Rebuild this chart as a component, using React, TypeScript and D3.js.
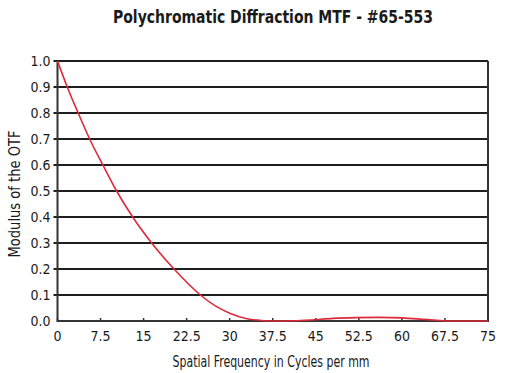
import React, { useEffect, useRef } from 'react';
import * as d3 from 'd3';

// MTF curve
const frequency = [0, 1.7, 3.6, 5.6, 7.9, 10.3, 13.1, 16.4, 20.3, 24.9, 27.5, 30, 33, 35.5, 38, 41, 44, 48, 52, 56, 60, 63.5, 66, 68.4, 71, 75];
const modulus = [1, 0.9, 0.8, 0.7, 0.6, 0.5, 0.4, 0.3, 0.2, 0.1, 0.058, 0.03, 0.009, 0.002, 0, 0.001, 0.004, 0.01, 0.013, 0.014, 0.012, 0.007, 0.003, 0, 0, 0];

const xTicks = [0, 7.5, 15, 22.5, 30, 37.5, 45, 52.5, 60, 67.5, 75];
const yTicks = [0, 0.1, 0.2, 0.3, 0.4, 0.5, 0.6, 0.7, 0.8, 0.9, 1.0];

const title = 'Polychromatic Diffraction MTF - #65-553';
const xTitle = 'Spatial Frequency in Cycles per mm';
const yTitle = 'Modulus of the OTF';

const FONT = '"DejaVu Sans Condensed", "Liberation Sans Narrow", sans-serif';

const W = 512;
const H = 373;
const margin = { top: 61, right: 24, bottom: 52, left: 57.5 };

export default function App() {
  const svgRef = useRef<SVGSVGElement>(null);

  useEffect(() => {
    if (!svgRef.current) return;
    const svg = d3.select(svgRef.current);
    svg.selectAll('*').remove();

    const x = d3.scaleLinear().domain([0, 75]).range([margin.left, W - margin.right]);
    const y = d3.scaleLinear().domain([0, 1]).range([H - margin.bottom, margin.top]);

    svg.append('rect').attr('width', W).attr('height', H).attr('fill', '#fff');

    // horizontal grid lines (extend a little left of the axis as ticks)
    svg.append('g')
      .selectAll('line')
      .data(yTicks.filter(d => d > 0))
      .enter()
      .append('line')
      .attr('x1', x(0) - 4)
      .attr('x2', x(75))
      .attr('y1', d => y(d))
      .attr('y2', d => y(d))
      .attr('stroke', '#1e1e1e')
      .attr('stroke-width', 2);

    // frame: left, bottom, right
    svg.append('path')
      .attr('d', `M${x(0)},${y(1)}V${y(0)}H${x(75)}V${y(1)}`)
      .attr('fill', 'none')
      .attr('stroke', '#333')
      .attr('stroke-width', 2);

    // x ticks (small, inward)
    svg.append('g')
      .selectAll('line')
      .data(xTicks)
      .enter()
      .append('line')
      .attr('x1', d => x(d))
      .attr('x2', d => x(d))
      .attr('y1', y(0))
      .attr('y2', y(0) - 3)
      .attr('stroke', '#333')
      .attr('stroke-width', 1.5);

    // MTF curve
    const pts: [number, number][] = frequency.map((f, i) => [f, modulus[i]]);
    const line = d3.line<[number, number]>()
      .x(d => x(d[0]))
      .y(d => y(Math.max(0, d[1])))
      .curve(d3.curveMonotoneX);
    svg.append('path')
      .datum(pts)
      .attr('d', line)
      .attr('fill', 'none')
      .attr('stroke', '#dc2a3a')
      .attr('stroke-width', 1.6);

    // tick labels
    svg.append('g')
      .selectAll('text')
      .data(yTicks)
      .enter()
      .append('text')
      .attr('x', x(0) - 7)
      .attr('y', d => y(d) + 5)
      .attr('text-anchor', 'end')
      .attr('font-family', FONT)
      .attr('font-size', 14)
      .attr('fill', '#1a1a1a')
      .text(d => d.toFixed(1));

    svg.append('g')
      .selectAll('text')
      .data(xTicks)
      .enter()
      .append('text')
      .attr('x', d => x(d))
      .attr('y', y(0) + 20)
      .attr('text-anchor', 'middle')
      .attr('font-family', FONT)
      .attr('font-size', 14)
      .attr('fill', '#1a1a1a')
      .text(d => String(d));

    // titles
    svg.append('text')
      .attr('x', 273)
      .attr('y', 23)
      .attr('text-anchor', 'middle')
      .attr('font-family', FONT)
      .attr('font-weight', 'bold')
      .attr('font-size', 18)
      .attr('textLength', 320)
      .attr('lengthAdjust', 'spacingAndGlyphs')
      .attr('fill', '#1a1a1a')
      .text(title);

    svg.append('text')
      .attr('x', 271)
      .attr('y', 367)
      .attr('text-anchor', 'middle')
      .attr('font-family', FONT)
      .attr('font-size', 15)
      .attr('textLength', 197)
      .attr('lengthAdjust', 'spacingAndGlyphs')
      .attr('fill', '#1a1a1a')
      .text(xTitle);

    svg.append('text')
      .attr('transform', `translate(20,${194}) rotate(-90)`)
      .attr('text-anchor', 'middle')
      .attr('font-family', FONT)
      .attr('font-size', 15)
      .attr('textLength', 127)
      .attr('lengthAdjust', 'spacingAndGlyphs')
      .attr('fill', '#1a1a1a')
      .text(yTitle);
  }, []);

  return (
    <svg
      ref={svgRef}
      width={W}
      height={H}
      style={{ display: 'block', position: 'absolute', left: 0, top: 0 }}
    />
  );
}
